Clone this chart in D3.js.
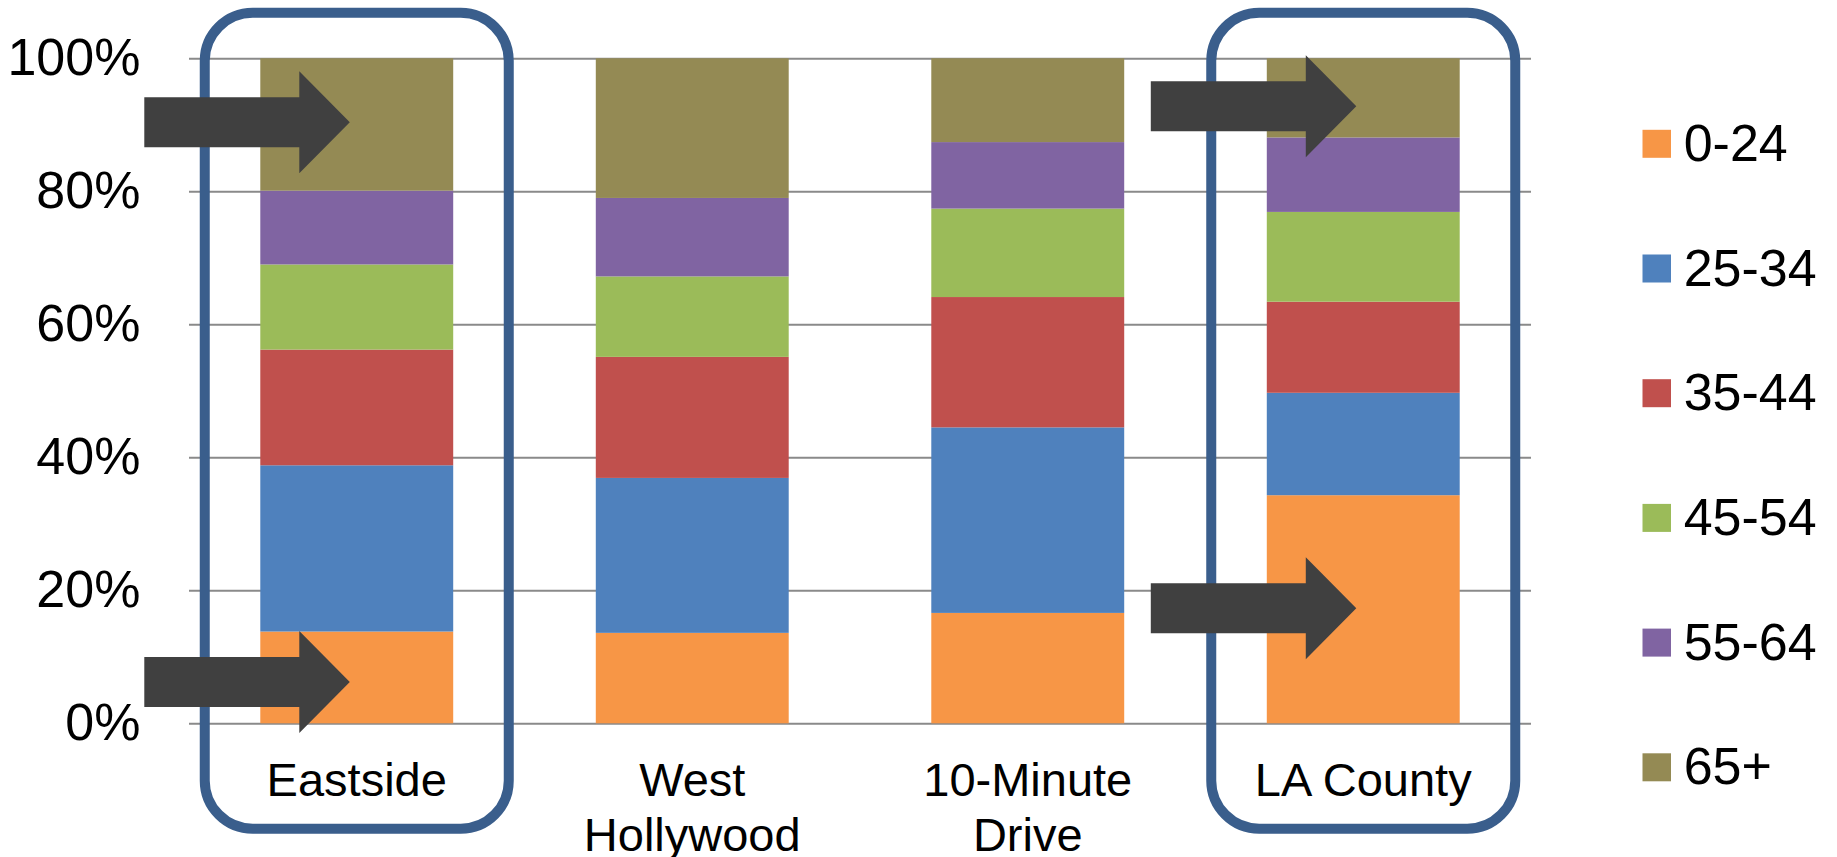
<!DOCTYPE html>
<html>
<head>
<meta charset="utf-8">
<script src="https://cdn.jsdelivr.net/npm/d3@7"></script>
<style>
  body { margin: 0; background: #fff; }
  svg { display: block; }
  text { font-family: "Liberation Sans", Arial, sans-serif; fill: #000; }
</style>
</head>
<body>
<svg id="chart" width="1837" height="857"></svg>
<script>
// Age distribution by area (percent of population)
const categories = ["Eastside", "West Hollywood", "10-Minute Drive", "LA County"];
const ageGroups = ["0-24", "25-34", "35-44", "45-54", "55-64", "65+"];
const age0to24  = [13.8, 13.6, 16.6, 34.3];
const age25to34 = [25.0, 23.3, 27.9, 15.4];
const age35to44 = [17.4, 18.2, 19.6, 13.7];
const age45to54 = [12.8, 12.1, 13.3, 13.5];
const age55to64 = [11.1, 11.8, 10.0, 11.2];
const age65plus = [19.9, 21.0, 12.6, 11.9];
const yTicks = [0, 20, 40, 60, 80, 100];
const tickLabels = ["0%", "20%", "40%", "60%", "80%", "100%"];

// Areas singled out with a frame, and the levels the arrows point at
const highlighted = ["Eastside", "LA County"];
const arrowTargets = [
  { category: "Eastside",  level: 90.4 },
  { category: "Eastside",  level: 6.2 },
  { category: "LA County", level: 92.8 },
  { category: "LA County", level: 17.3 }
];

const seriesValues = [age0to24, age25to34, age35to44, age45to54, age55to64, age65plus];
const colors = ["#F79646", "#4F81BD", "#C0504D", "#9BBB59", "#8064A2", "#948A54"];

const rows = categories.map((c, i) => {
  const r = { category: c };
  ageGroups.forEach((g, k) => { r[g] = seriesValues[k][i]; });
  return r;
});

const svg = d3.select("#chart");
const plotLeft = 189, plotRight = 1531, plotTop = 58.3, plotBottom = 723.3;

const x = d3.scaleBand().domain(categories).range([plotLeft, plotRight])
  .paddingInner(0.425).paddingOuter(0.2125);
const y = d3.scaleLinear().domain([0, 100]).range([plotBottom, plotTop]);
const color = d3.scaleOrdinal().domain(ageGroups).range(colors);

// Horizontal gridlines
const grid = svg.append("g").attr("transform", `translate(${plotLeft},0)`)
  .call(d3.axisRight(y).tickValues(yTicks).tickSize(plotRight - plotLeft).tickFormat(""));
grid.select(".domain").remove();
grid.selectAll("line").attr("stroke", "#8a8a8a").attr("stroke-width", 2);

// Y axis labels
const yAxis = svg.append("g").attr("transform", `translate(${plotLeft},0)`)
  .call(d3.axisLeft(y).tickValues(yTicks).tickSize(0).tickPadding(48.6)
    .tickFormat((d, i) => tickLabels[i]));
yAxis.select(".domain").remove();
yAxis.selectAll("text").attr("font-size", 52).attr("fill", "#000")
  .style("font-family", '"Liberation Sans", Arial, sans-serif');

// Stacked bars
const stacked = d3.stack().keys(ageGroups)(rows);
svg.append("g").selectAll("g").data(stacked).join("g")
  .attr("fill", d => color(d.key))
  .selectAll("rect").data(d => d).join("rect")
  .attr("x", d => x(d.data.category))
  .attr("width", x.bandwidth())
  .attr("y", d => y(d[1]))
  .attr("height", d => y(d[0]) - y(d[1]));

// Category labels, wrapped on word boundaries
const labelG = svg.append("g").attr("font-size", 47).attr("text-anchor", "middle");
const maxLineWidth = 250;
categories.forEach(c => {
  const t = labelG.append("text").attr("x", x(c) + x.bandwidth() / 2).attr("y", 796);
  const words = c.split(" ");
  let line = [], lineNo = 0;
  let tspan = t.append("tspan").attr("x", x(c) + x.bandwidth() / 2).attr("dy", 0);
  words.forEach(w => {
    line.push(w);
    tspan.text(line.join(" "));
    if (tspan.node().getComputedTextLength() > maxLineWidth && line.length > 1) {
      line.pop();
      tspan.text(line.join(" "));
      line = [w];
      lineNo++;
      tspan = t.append("tspan").attr("x", x(c) + x.bandwidth() / 2).attr("dy", 55).text(w);
    }
  });
});

// Frames around highlighted areas
svg.append("g").selectAll("rect").data(highlighted).join("rect")
  .attr("x", d => x(d) + x.bandwidth() / 2 - 152)
  .attr("width", 304)
  .attr("y", y(100) - 45.5)
  .attr("height", (y(0) + 105.4) - (y(100) - 45.5))
  .attr("rx", 48).attr("ry", 48)
  .attr("fill", "none")
  .attr("stroke", "#3A5E8C")
  .attr("stroke-width", 10);

// Block arrows
const arrowPath = d => {
  const left = x(d.category), cy = y(d.level);
  const pts = [
    [left - 116, cy - 25], [left + 39, cy - 25], [left + 39, cy - 51],
    [left + 89.5, cy], [left + 39, cy + 51], [left + 39, cy + 25], [left - 116, cy + 25]
  ];
  return "M" + pts.map(p => p.join(",")).join("L") + "Z";
};
svg.append("g").selectAll("path").data(arrowTargets).join("path")
  .attr("d", arrowPath)
  .attr("fill", "#404040");

// Legend
const legend = svg.append("g");
const legendItems = legend.selectAll("g").data(ageGroups).join("g")
  .attr("transform", (d, i) => `translate(1642.5, ${143.8 + i * 124.7})`);
legendItems.append("rect")
  .attr("x", 0).attr("y", -14).attr("width", 28.5).attr("height", 28)
  .attr("fill", d => color(d));
legendItems.append("text")
  .attr("x", 41.2).attr("dy", "0.33em").attr("font-size", 52)
  .text(d => d);
</script>
</body>
</html>
